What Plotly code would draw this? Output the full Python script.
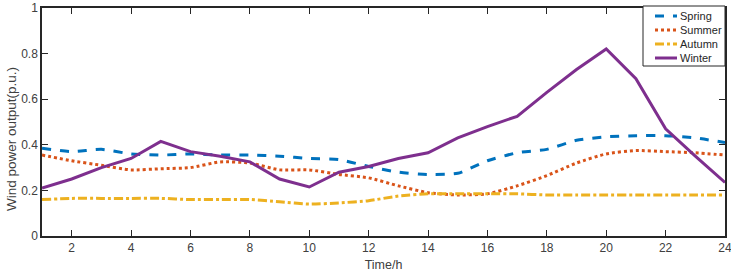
import plotly.graph_objects as go

hours = list(range(1, 25))
spring = [0.385, 0.37, 0.38, 0.36, 0.355, 0.36, 0.355, 0.355, 0.35, 0.34, 0.335, 0.305,
          0.28, 0.27, 0.275, 0.33, 0.365, 0.38, 0.42, 0.435, 0.44, 0.44, 0.43, 0.41]
summer = [0.355, 0.33, 0.31, 0.29, 0.295, 0.30, 0.325, 0.32, 0.29, 0.29, 0.27, 0.255,
          0.22, 0.19, 0.18, 0.185, 0.22, 0.265, 0.32, 0.36, 0.375, 0.37, 0.365, 0.355]
autumn = [0.16, 0.165, 0.165, 0.165, 0.165, 0.16, 0.16, 0.16, 0.15, 0.14, 0.145, 0.155,
          0.175, 0.185, 0.185, 0.185, 0.185, 0.18, 0.18, 0.18, 0.18, 0.18, 0.18, 0.18]
winter = [0.21, 0.25, 0.30, 0.34, 0.415, 0.37, 0.35, 0.325, 0.25, 0.215, 0.28, 0.305,
          0.34, 0.365, 0.43, 0.48, 0.525, 0.63, 0.73, 0.82, 0.69, 0.47, 0.35, 0.235]
names = ["Spring", "Summer", "Autumn", "Winter"]
xticks = list(range(2, 25, 2))
yticks = [0, 0.2, 0.4, 0.6, 0.8, 1]
ytick_labels = ["0", "0.2", "0.4", "0.6", "0.8", "1"]

colors = ["#0072BD", "#D95319", "#EDB120", "#7E2F8E"]
dashes = ["dash", "dot", "dashdot", "solid"]
shapes_ = ["spline", "spline", "spline", "linear"]

W, H = 731, 276
ML, MR, MT, MB = 42, 6, 8, 40
PW, PH = W - ML - MR, H - MT - MB


def px_x(p):
    return (p - ML) / PW


def px_y(p):
    return (H - MB - p) / PH


fig = go.Figure()
for name, ys, c, d, s in zip(names, [spring, summer, autumn, winter], colors, dashes, shapes_):
    fig.add_trace(go.Scatter(x=hours, y=ys, name=name, mode="lines", showlegend=False,
                             line=dict(color=c, dash=d, width=3, shape=s, smoothing=0.6)))

# Custom legend box (MATLAB-style compact legend)
shape_list = [dict(type="rect", xref="paper", yref="paper",
                   x0=px_x(643), x1=px_x(W - MR), y0=px_y(66), y1=px_y(6),
                   line=dict(color="#262626", width=1), fillcolor="white", layer="above")]
annots = []
rows = [16, 30, 44, 58]
for name, c, d, r in zip(names, colors, dashes, rows):
    shape_list.append(dict(type="line", xref="paper", yref="paper",
                           x0=px_x(655), x1=px_x(677), y0=px_y(r), y1=px_y(r),
                           line=dict(color=c, width=3, dash=d), layer="above"))
    annots.append(dict(xref="paper", yref="paper", x=px_x(678), y=px_y(r), text=name,
                       showarrow=False, xanchor="left", yanchor="middle",
                       font=dict(family="Liberation Sans, Arial", size=11, color="#262626")))

# y-axis title placed like the reference
annots.append(dict(xref="paper", yref="paper", x=px_x(11), y=px_y(139),
                   text="Wind power output(p.u.)", textangle=-90, showarrow=False,
                   xanchor="center", yanchor="middle",
                   font=dict(family="Liberation Sans, Arial", size=13.5, color="#404040")))

axis_common = dict(showline=True, linecolor="#262626", linewidth=1.5, mirror="allticks",
                   ticks="inside", ticklen=6, tickcolor="#262626", showgrid=False,
                   zeroline=False, automargin=False,
                   tickfont=dict(family="Liberation Sans, Arial", size=12, color="#404040"))

fig.update_layout(
    width=W, height=H,
    margin=dict(l=ML, r=MR, t=MT, b=MB),
    paper_bgcolor="white", plot_bgcolor="white",
    font=dict(family="Liberation Sans, Arial", size=12, color="#262626"),
    xaxis=dict(range=[1, 24], tickvals=xticks, ticklabeloverflow="allow",
               title=dict(text="Time/h", standoff=6,
                          font=dict(size=12.5, color="#404040")), **axis_common),
    yaxis=dict(range=[0, 1], tickvals=yticks, ticktext=ytick_labels, **axis_common),
    shapes=shape_list,
    annotations=annots,
    showlegend=False,
)

fig.write_html("out.html")
